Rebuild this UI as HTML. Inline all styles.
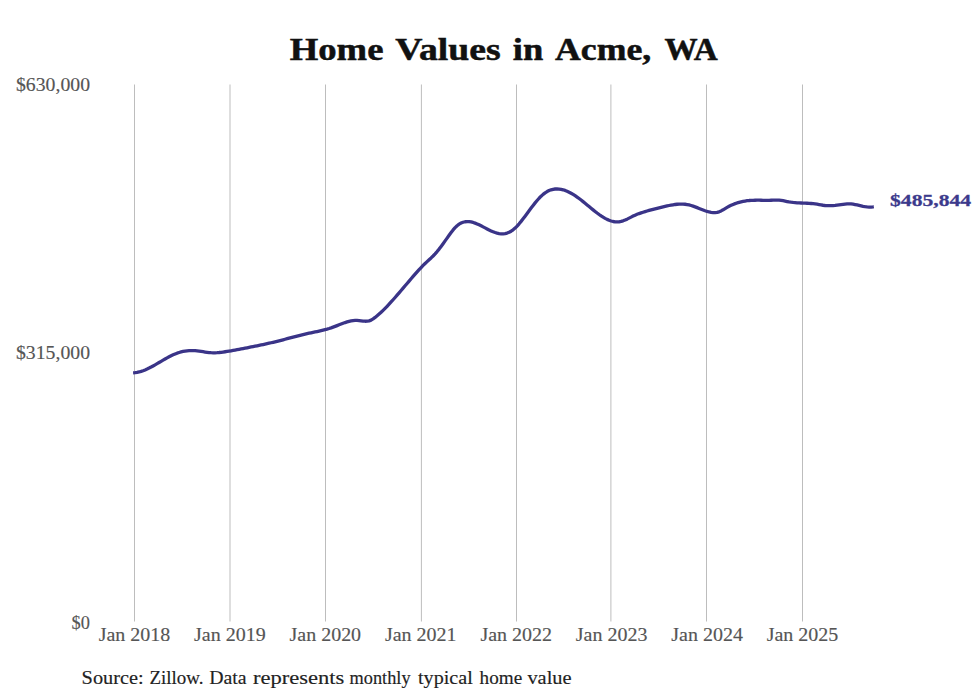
<!DOCTYPE html>
<html><head><meta charset="utf-8"><style>
html,body{margin:0;padding:0;background:#fff;}
svg{display:block;}
text{font-family:"Liberation Serif",serif;}
.g{stroke:#bdbdbd;stroke-width:1;}
.t{font-size:18px;fill:#555;stroke:#555;stroke-width:0.15px;}
.title{font-size:32px;font-weight:bold;fill:#111;stroke:#111;stroke-width:0.5px;}
.source{font-size:19px;fill:#222;stroke:#222;stroke-width:0.15px;}
.yl{font-size:18px;fill:#555;stroke:#555;stroke-width:0.15px;}
</style></head><body>
<svg width="980" height="699" viewBox="0 0 980 699">
<rect width="980" height="699" fill="#fff"/>
<text x="289.8" y="60.1" textLength="93.61" lengthAdjust="spacingAndGlyphs" class="title">Home</text><text x="395.2" y="60.1" textLength="105.41" lengthAdjust="spacingAndGlyphs" class="title">Values</text><text x="512.8" y="60.1" textLength="30.41" lengthAdjust="spacingAndGlyphs" class="title">in</text><text x="555.0" y="60.1" textLength="96.2" lengthAdjust="spacingAndGlyphs" class="title">Acme,</text><text x="664.4" y="60.1" textLength="53.41" lengthAdjust="spacingAndGlyphs" class="title">WA</text>
<line x1="134.50" y1="84.5" x2="134.50" y2="621.5" class="g"/>
<line x1="230.00" y1="84.5" x2="230.00" y2="621.5" class="g"/>
<line x1="325.50" y1="84.5" x2="325.50" y2="621.5" class="g"/>
<line x1="421.40" y1="84.5" x2="421.40" y2="621.5" class="g"/>
<line x1="516.50" y1="84.5" x2="516.50" y2="621.5" class="g"/>
<line x1="610.90" y1="84.5" x2="610.90" y2="621.5" class="g"/>
<line x1="706.50" y1="84.5" x2="706.50" y2="621.5" class="g"/>
<line x1="802.50" y1="84.5" x2="802.50" y2="621.5" class="g"/>
<text x="90" y="90.7" text-anchor="end" class="yl" textLength="74" lengthAdjust="spacingAndGlyphs">$630,000</text>
<text x="90" y="359.0" text-anchor="end" class="yl" textLength="74" lengthAdjust="spacingAndGlyphs">$315,000</text>
<text x="90" y="628.9" text-anchor="end" class="yl" textLength="18.4" lengthAdjust="spacingAndGlyphs">$0</text>
<text x="134.45" y="640.5" text-anchor="middle" class="t" textLength="71.6" lengthAdjust="spacingAndGlyphs">Jan 2018</text>
<text x="229.89" y="640.5" text-anchor="middle" class="t" textLength="71.6" lengthAdjust="spacingAndGlyphs">Jan 2019</text>
<text x="325.33" y="640.5" text-anchor="middle" class="t" textLength="71.6" lengthAdjust="spacingAndGlyphs">Jan 2020</text>
<text x="420.77" y="640.5" text-anchor="middle" class="t" textLength="71.6" lengthAdjust="spacingAndGlyphs">Jan 2021</text>
<text x="516.21" y="640.5" text-anchor="middle" class="t" textLength="71.6" lengthAdjust="spacingAndGlyphs">Jan 2022</text>
<text x="611.65" y="640.5" text-anchor="middle" class="t" textLength="71.6" lengthAdjust="spacingAndGlyphs">Jan 2023</text>
<text x="707.09" y="640.5" text-anchor="middle" class="t" textLength="71.6" lengthAdjust="spacingAndGlyphs">Jan 2024</text>
<text x="802.53" y="640.5" text-anchor="middle" class="t" textLength="71.6" lengthAdjust="spacingAndGlyphs">Jan 2025</text>
<path d="M133.10,372.83 L135.10,372.70 L137.10,372.41 L139.10,371.97 L141.10,371.41 L143.10,370.73 L145.10,369.94 L147.10,369.06 L149.10,368.09 L151.10,367.06 L153.10,365.97 L155.10,364.84 L157.10,363.68 L159.10,362.51 L161.10,361.32 L163.10,360.15 L165.10,358.99 L167.10,357.87 L169.10,356.79 L171.10,355.77 L173.10,354.82 L175.10,353.95 L177.10,353.17 L179.10,352.50 L181.10,351.93 L183.10,351.45 L185.10,351.08 L187.10,350.80 L189.10,350.62 L191.10,350.53 L193.10,350.54 L195.10,350.65 L197.10,350.84 L199.10,351.10 L201.10,351.40 L203.10,351.71 L205.10,352.03 L207.10,352.31 L209.10,352.55 L211.10,352.72 L213.10,352.80 L215.10,352.78 L217.10,352.67 L219.10,352.50 L221.10,352.28 L223.10,352.02 L225.10,351.75 L227.10,351.45 L229.10,351.13 L231.10,350.79 L233.10,350.45 L235.10,350.08 L237.10,349.71 L239.10,349.33 L241.10,348.94 L243.10,348.55 L245.10,348.16 L247.10,347.77 L249.10,347.37 L251.10,346.98 L253.10,346.58 L255.10,346.18 L257.10,345.78 L259.10,345.37 L261.10,344.95 L263.10,344.53 L265.10,344.10 L267.10,343.66 L269.10,343.22 L271.10,342.76 L273.10,342.29 L275.10,341.81 L277.10,341.32 L279.10,340.82 L281.10,340.30 L283.10,339.78 L285.10,339.25 L287.10,338.71 L289.10,338.18 L291.10,337.64 L293.10,337.11 L295.10,336.58 L297.10,336.06 L299.10,335.55 L301.10,335.04 L303.10,334.56 L305.10,334.08 L307.10,333.63 L309.10,333.19 L311.10,332.77 L313.10,332.36 L315.10,331.95 L317.10,331.53 L319.10,331.09 L321.10,330.64 L323.10,330.16 L325.10,329.65 L327.10,329.10 L329.10,328.50 L331.10,327.85 L333.10,327.14 L335.10,326.39 L337.10,325.60 L339.10,324.81 L341.10,324.02 L343.10,323.26 L345.10,322.56 L347.10,321.92 L349.10,321.36 L351.10,320.92 L353.10,320.60 L355.10,320.42 L357.10,320.41 L359.10,320.57 L361.10,320.82 L363.10,321.07 L365.10,321.23 L367.10,321.18 L369.10,320.83 L371.10,320.09 L373.10,318.91 L375.10,317.44 L377.10,315.80 L379.10,314.06 L381.10,312.24 L383.10,310.33 L385.10,308.34 L387.10,306.28 L389.10,304.17 L391.10,301.99 L393.10,299.77 L395.10,297.50 L397.10,295.21 L399.10,292.88 L401.10,290.53 L403.10,288.18 L405.10,285.81 L407.10,283.45 L409.10,281.09 L411.10,278.75 L413.10,276.44 L415.10,274.15 L417.10,271.90 L419.10,269.69 L421.10,267.54 L423.10,265.47 L425.10,263.48 L427.10,261.60 L429.10,259.78 L431.10,257.94 L433.10,256.00 L435.10,253.89 L437.10,251.58 L439.10,249.10 L441.10,246.46 L443.10,243.72 L445.10,240.91 L447.10,238.08 L449.10,235.25 L451.10,232.51 L453.10,229.93 L455.10,227.63 L457.10,225.70 L459.10,224.17 L461.10,223.03 L463.10,222.24 L465.10,221.76 L467.10,221.58 L469.10,221.66 L471.10,221.96 L473.10,222.46 L475.10,223.13 L477.10,223.93 L479.10,224.84 L481.10,225.82 L483.10,226.86 L485.10,227.91 L487.10,228.96 L489.10,229.98 L491.10,230.93 L493.10,231.79 L495.10,232.54 L497.10,233.14 L499.10,233.56 L501.10,233.79 L503.10,233.79 L505.10,233.54 L507.10,233.04 L509.10,232.26 L511.10,231.18 L513.10,229.79 L515.10,228.07 L517.10,226.06 L519.10,223.80 L521.10,221.37 L523.10,218.80 L525.10,216.15 L527.10,213.45 L529.10,210.74 L531.10,208.05 L533.10,205.42 L535.10,202.88 L537.10,200.48 L539.10,198.23 L541.10,196.19 L543.10,194.39 L545.10,192.85 L547.10,191.59 L549.10,190.58 L551.10,189.82 L553.10,189.30 L555.10,189.00 L557.10,188.91 L559.10,189.03 L561.10,189.33 L563.10,189.80 L565.10,190.44 L567.10,191.24 L569.10,192.17 L571.10,193.23 L573.10,194.41 L575.10,195.69 L577.10,197.07 L579.10,198.52 L581.10,200.05 L583.10,201.63 L585.10,203.25 L587.10,204.91 L589.10,206.57 L591.10,208.23 L593.10,209.87 L595.10,211.47 L597.10,213.02 L599.10,214.50 L601.10,215.89 L603.10,217.17 L605.10,218.34 L607.10,219.38 L609.10,220.26 L611.10,220.97 L613.10,221.50 L615.10,221.83 L617.10,221.94 L619.10,221.82 L621.10,221.44 L623.10,220.84 L625.10,220.05 L627.10,219.13 L629.10,218.13 L631.10,217.10 L633.10,216.09 L635.10,215.16 L637.10,214.33 L639.10,213.57 L641.10,212.87 L643.10,212.22 L645.10,211.60 L647.10,211.00 L649.10,210.42 L651.10,209.86 L653.10,209.31 L655.10,208.79 L657.10,208.28 L659.10,207.78 L661.10,207.29 L663.10,206.82 L665.10,206.36 L667.10,205.92 L669.10,205.50 L671.10,205.12 L673.10,204.78 L675.10,204.49 L677.10,204.26 L679.10,204.11 L681.10,204.05 L683.10,204.09 L685.10,204.25 L687.10,204.53 L689.10,204.96 L691.10,205.50 L693.10,206.15 L695.10,206.87 L697.10,207.64 L699.10,208.43 L701.10,209.24 L703.10,210.03 L705.10,210.77 L707.10,211.44 L709.10,211.99 L711.10,212.40 L713.10,212.62 L715.10,212.61 L717.10,212.35 L719.10,211.80 L721.10,210.92 L723.10,209.79 L725.10,208.56 L727.10,207.38 L729.10,206.30 L731.10,205.32 L733.10,204.43 L735.10,203.64 L737.10,202.95 L739.10,202.34 L741.10,201.82 L743.10,201.38 L745.10,201.02 L747.10,200.73 L749.10,200.52 L751.10,200.38 L753.10,200.28 L755.10,200.23 L757.10,200.22 L759.10,200.22 L761.10,200.25 L763.10,200.28 L765.10,200.30 L767.10,200.31 L769.10,200.30 L771.10,200.25 L773.10,200.16 L775.10,200.07 L777.10,200.05 L779.10,200.15 L781.10,200.39 L783.10,200.72 L785.10,201.11 L787.10,201.52 L789.10,201.90 L791.10,202.22 L793.10,202.47 L795.10,202.65 L797.10,202.79 L799.10,202.89 L801.10,202.98 L803.10,203.06 L805.10,203.14 L807.10,203.24 L809.10,203.35 L811.10,203.50 L813.10,203.68 L815.10,203.91 L817.10,204.20 L819.10,204.54 L821.10,204.91 L823.10,205.25 L825.10,205.50 L827.10,205.66 L829.10,205.71 L831.10,205.68 L833.10,205.58 L835.10,205.41 L837.10,205.19 L839.10,204.93 L841.10,204.64 L843.10,204.34 L845.10,204.05 L847.10,203.85 L849.10,203.80 L851.10,203.91 L853.10,204.16 L855.10,204.52 L857.10,204.95 L859.10,205.42 L861.10,205.89 L863.10,206.32 L865.10,206.70 L867.10,206.97 L869.10,207.12 L871.10,207.09 L873.10,206.86 L873.80,206.73" fill="none" stroke="#3a3488" stroke-width="3.3" stroke-linejoin="round" stroke-linecap="butt"/>
<text x="890" y="205.6" textLength="81.1" lengthAdjust="spacingAndGlyphs" style="font-size:17.7px;font-weight:bold;fill:#3c3a8c;stroke:#3c3a8c;stroke-width:0.3px;">$485,844</text>
<text x="81.6" y="683.9" textLength="62.05" lengthAdjust="spacingAndGlyphs" class="source">Source:</text><text x="149.4" y="683.9" textLength="54.02" lengthAdjust="spacingAndGlyphs" class="source">Zillow.</text><text x="209.2" y="683.9" textLength="37.43" lengthAdjust="spacingAndGlyphs" class="source">Data</text><text x="253.0" y="683.9" textLength="91.4" lengthAdjust="spacingAndGlyphs" class="source">represents</text><text x="349.6" y="683.9" textLength="61.0" lengthAdjust="spacingAndGlyphs" class="source">monthly</text><text x="418.0" y="683.9" textLength="54.83" lengthAdjust="spacingAndGlyphs" class="source">typical</text><text x="479.6" y="683.9" textLength="42.61" lengthAdjust="spacingAndGlyphs" class="source">home</text><text x="527.4" y="683.9" textLength="44.21" lengthAdjust="spacingAndGlyphs" class="source">value</text>
</svg>
</body></html>
